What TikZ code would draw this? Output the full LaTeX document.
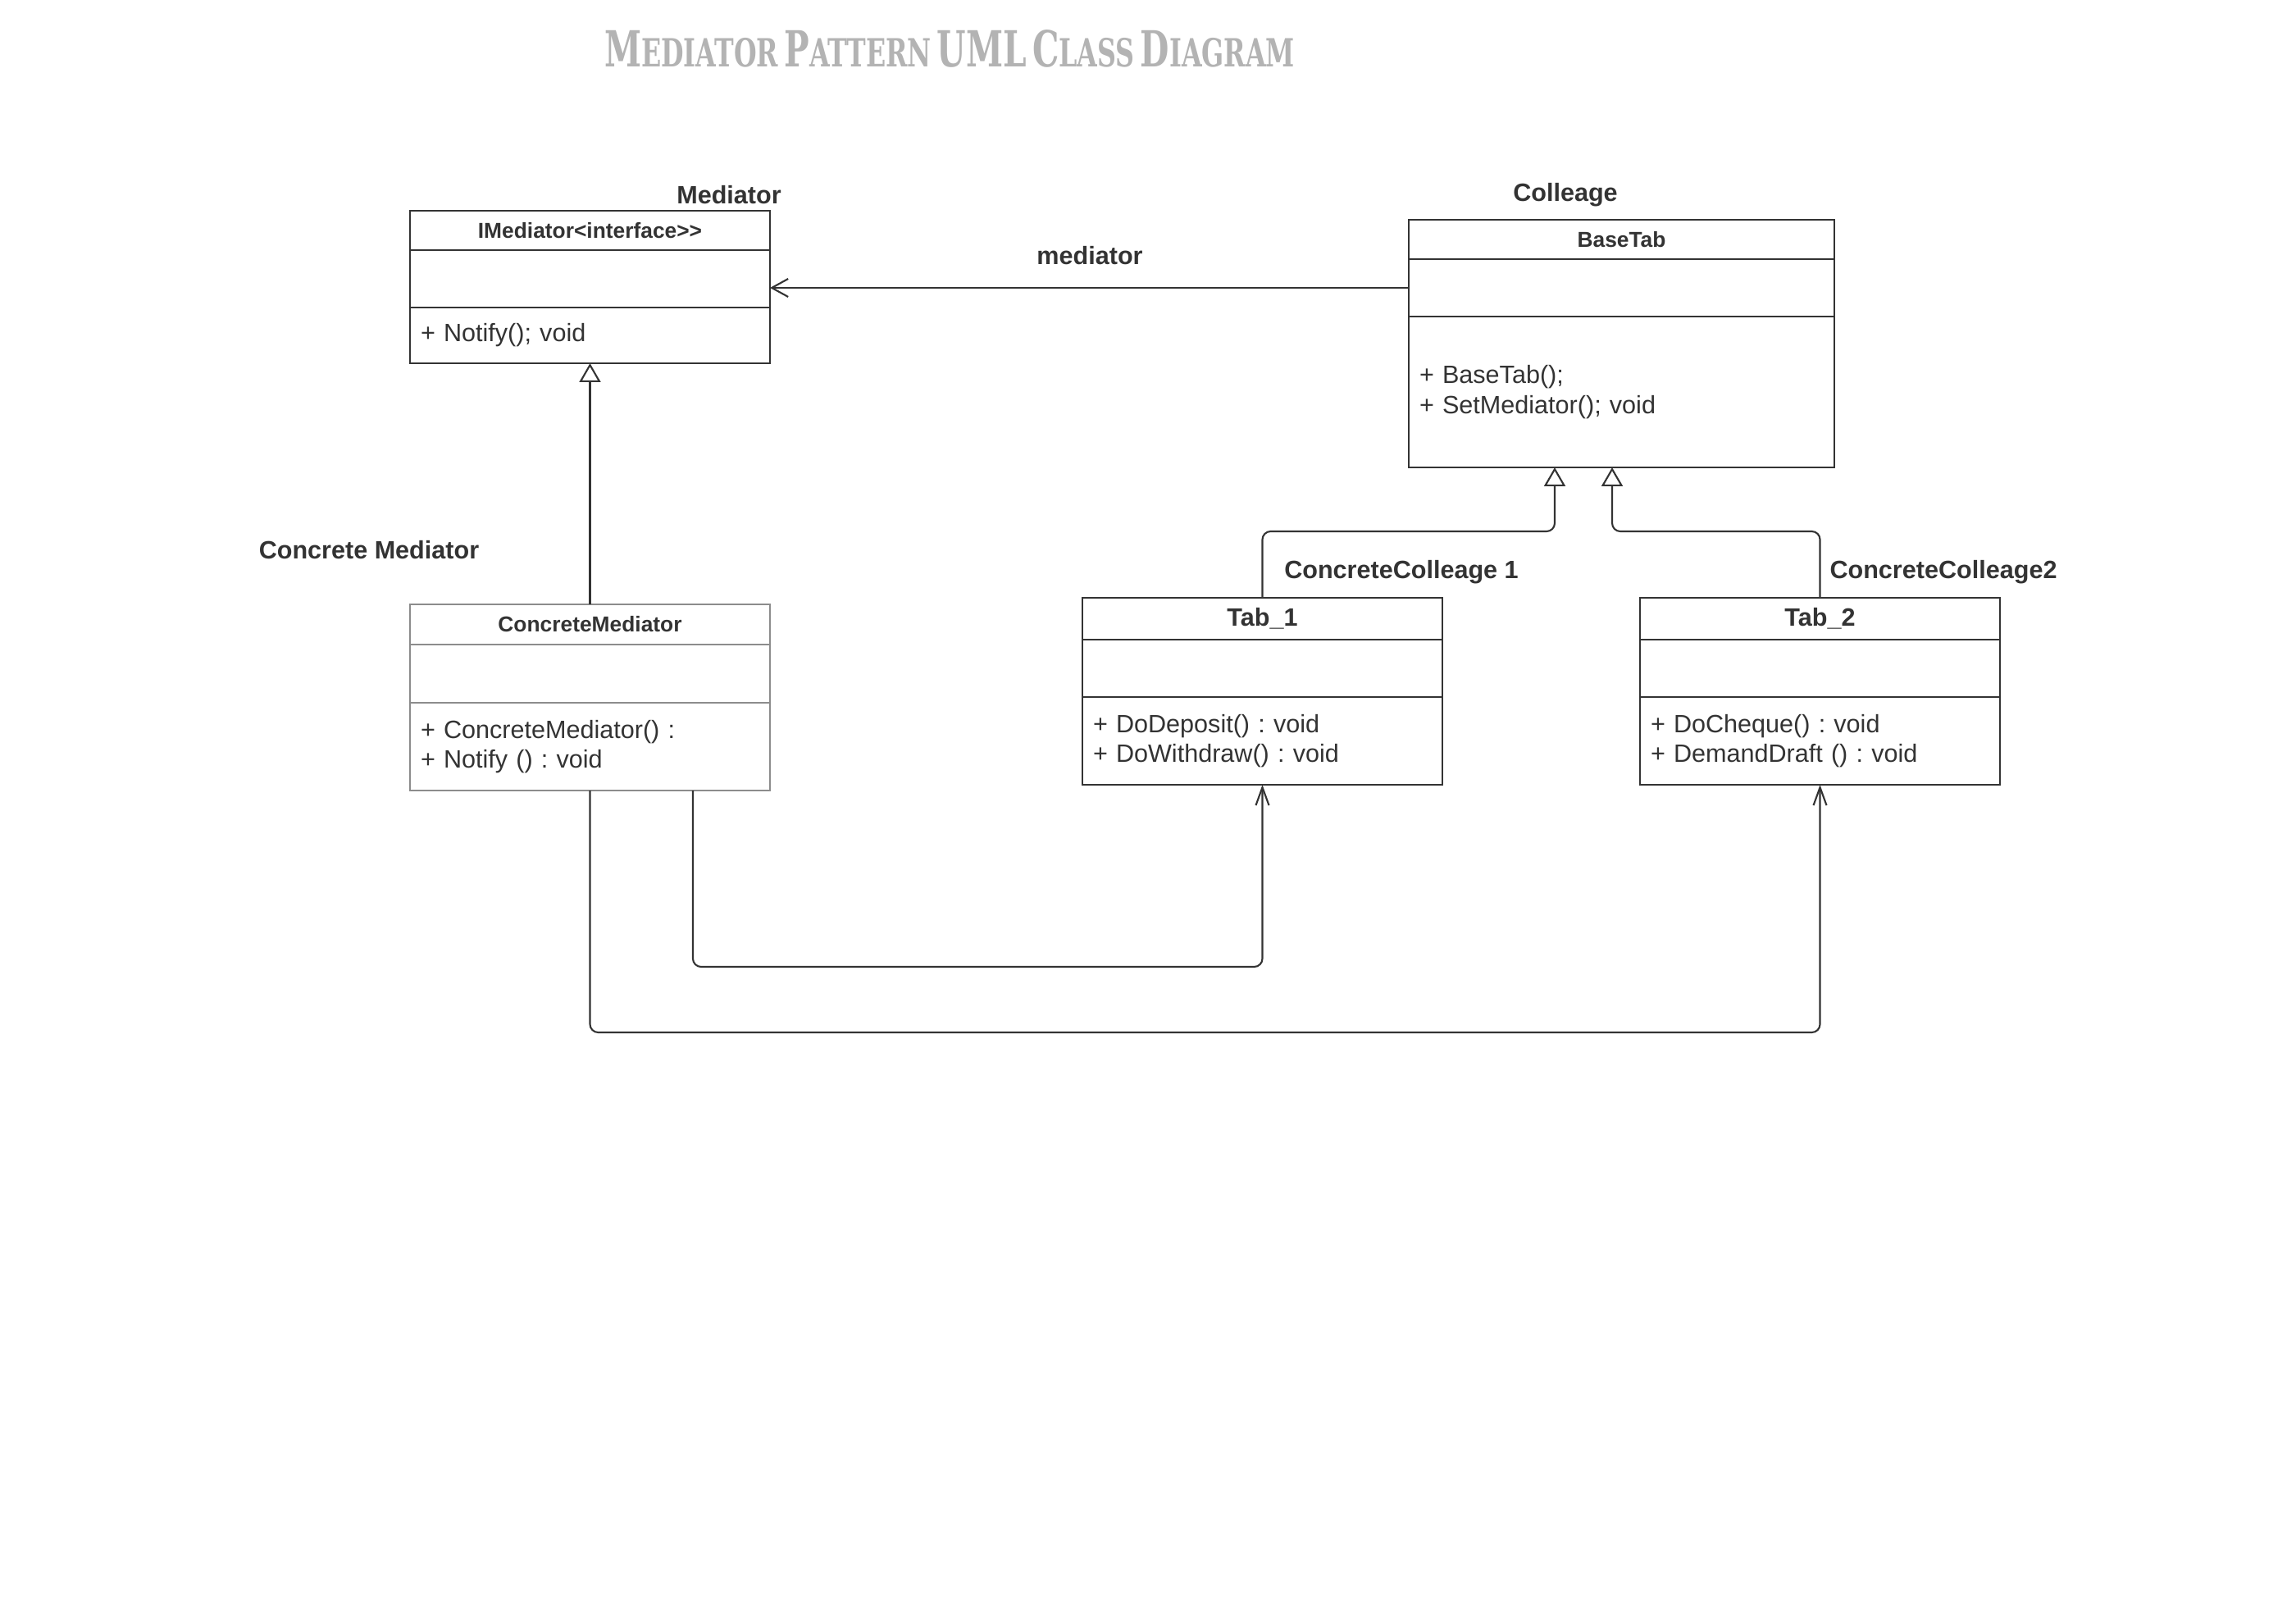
\documentclass[tikz,border=0pt]{standalone}
\usepackage{fontspec}
\usepackage{graphicx}
\setmainfont{Liberation Sans}
\newfontfamily\titlefont{DejaVu Serif}[FakeStretch=0.72]
\usetikzlibrary{positioning,arrows.meta}

\definecolor{ink}{HTML}{333333}
\definecolor{titlegray}{HTML}{B3B3B3}
\definecolor{softline}{HTML}{8C8C8C}

% fake small caps for the heading
\newcommand{\tsc}[2]{{\fontsize{20}{20}\selectfont #1}{\fontsize{15.6}{16}\selectfont #2}}
\frenchspacing

\begin{document}
\begin{tikzpicture}[
    classname/.style={rectangle, draw=ink, line width=0.6pt, text=ink, minimum width=4.39cm, minimum height=0.48cm, inner sep=0pt, outer sep=0pt, font=\fontsize{7.5}{9}\selectfont\bfseries},
    classattr/.style={rectangle, draw=ink, line width=0.6pt, minimum width=4.39cm, minimum height=0.70cm, inner sep=0pt, outer sep=0pt},
    classops/.style={rectangle, draw=ink, line width=0.6pt, text=ink, text width=4.13cm, align=left, inner xsep=0.13cm, inner ysep=0pt, outer sep=0pt, font=\fontsize{8.7}{10.3}\selectfont},
    rolelabel/.style={text=ink, font=\fontsize{8.7}{10}\selectfont\bfseries},
    link/.style={draw=ink, line width=0.6pt, rounded corners=1mm},
    assoc/.style={link, -{Straight Barb[length=2mm, width=2.2mm]}},
    navig/.style={link, -{Straight Barb[length=2.2mm, width=1.6mm]}},
    inherit/.style={link, -{Triangle[open, length=2.3mm, width=2.6mm, fill=white]}}
]
\useasboundingbox (0,0) rectangle (28,-19.67);

% Heading
\node[text=titlegray, inner sep=0pt] (title) at (11.58,-0.59) {\resizebox{8.42cm}{0.45cm}{\titlefont\bfseries \tsc{M}{EDIATOR} \tsc{P}{ATTERN} \tsc{UML}{} \tsc{C}{LASS} \tsc{D}{IAGRAM}}};

% Mediator interface
\node[classname, anchor=north] (imedName) at (7.195,-2.57) {IMediator<interface>{}>};
\node[classattr, below=0pt of imedName] (imedAttr) {};
\node[classops, minimum height=0.68cm, below=0pt of imedAttr] (imedOps) {+ Notify(); void};

% Colleague base class
\node[classname, minimum width=5.19cm, anchor=north] (baseName) at (19.775,-2.68) {BaseTab};
\node[classattr, minimum width=5.19cm, below=0pt of baseName] (baseAttr) {};
\node[classops, text width=4.93cm, minimum height=1.84cm, below=0pt of baseAttr] (baseOps) {+ BaseTab();\\+ SetMediator(); void};

% Concrete mediator
\node[classname, draw=softline, line width=0.4pt, minimum height=0.49cm, anchor=north] (cmedName) at (7.195,-7.37) {ConcreteMediator};
\node[classattr, draw=softline, line width=0.4pt, minimum height=0.71cm, below=0pt of cmedName] (cmedAttr) {};
\node[classops, draw=softline, line width=0.4pt, minimum height=1.07cm, below=0pt of cmedAttr] (cmedOps) {+ ConcreteMediator() :\\+ Notify () : void};

% Concrete colleagues
\node[classname, minimum height=0.51cm, font=\fontsize{8.7}{10}\selectfont\bfseries, anchor=north] (tab1Name) at (15.395,-7.29) {Tab\_1};
\node[classattr, below=0pt of tab1Name] (tab1Attr) {};
\node[classops, minimum height=1.07cm, below=0pt of tab1Attr] (tab1Ops) {+ DoDeposit() : void\\+ DoWithdraw() : void};

\node[classname, minimum height=0.51cm, font=\fontsize{8.7}{10}\selectfont\bfseries, anchor=north] (tab2Name) at (22.195,-7.29) {Tab\_2};
\node[classattr, below=0pt of tab2Name] (tab2Attr) {};
\node[classops, minimum height=1.07cm, below=0pt of tab2Attr] (tab2Ops) {+ DoCheque() : void\\+ DemandDraft () : void};

% Labels
\node[rolelabel] (medLabel) at (8.89,-2.38) {Mediator};
\node[rolelabel] (colLabel) at (19.09,-2.38) {Colleage};
\node[rolelabel] (assocLabel) at (13.29,-3.12) {mediator};
\node[rolelabel] (cmedLabel) at (4.50,-6.71) {Concrete Mediator};
\node[rolelabel] (cc1Label) at (17.09,-6.98) {ConcreteColleage 1};
\node[rolelabel] (cc2Label) at (23.70,-6.98) {ConcreteColleage2};

% Arrows
\draw[assoc] (baseAttr.west) -- (baseAttr.west -| imedAttr.east);
\draw[inherit] (cmedName.north) -- (imedOps.south);

\coordinate (gen1) at (18.96,-6.48);
\coordinate (gen2) at (19.66,-6.48);
\draw[inherit] (tab1Name.north) |- (gen1) -- (gen1 |- baseOps.south);
\draw[inherit] (tab2Name.north) |- (gen2) -- (gen2 |- baseOps.south);

\coordinate (nav1) at (8.45,-11.79);
\coordinate (nav2) at (7.195,-12.59);
\draw[navig] (nav1 |- cmedOps.south) -- (nav1) -| (tab1Ops.south);
\draw[navig] (cmedOps.south) -- (nav2) -| (tab2Ops.south);

\end{tikzpicture}
\end{document}
